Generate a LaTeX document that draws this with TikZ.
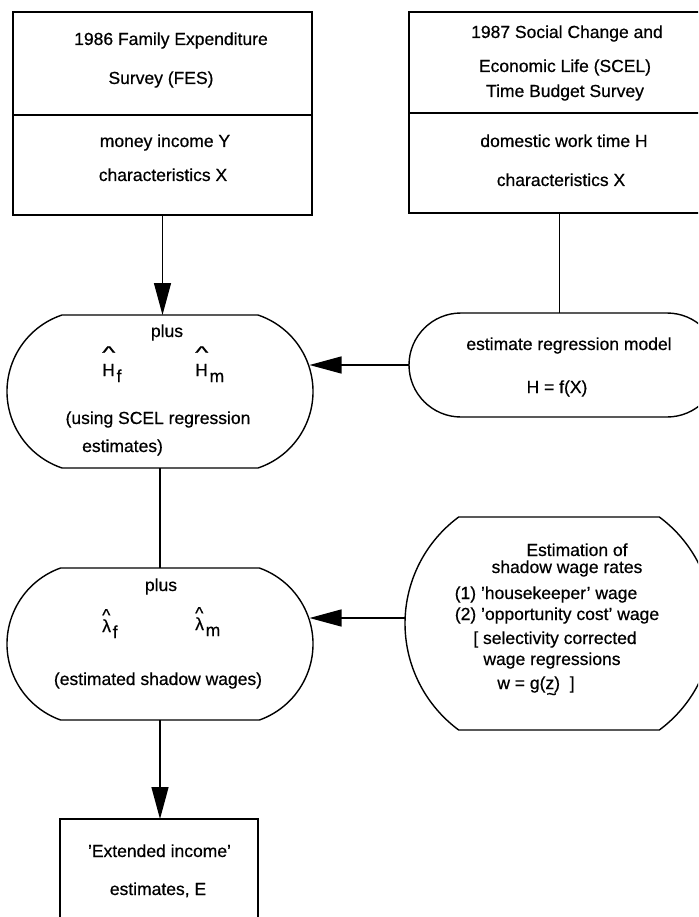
\documentclass[tikz,border=0pt]{standalone}
\usepackage{fontspec}
\usepackage{graphicx}
\setmainfont{Liberation Sans}[BoldFont=Liberation Sans, BoldFeatures={FakeBold=0.6}]
\usetikzlibrary{arrows.meta}
\newcommand\hatted[4]{\leavevmode\rlap{\raisebox{#3}{\scalebox{#4}[1]{\textasciicircum}}}#1\raisebox{-0.35em}{\kern0.1em#2}}
\newcommand\drawcapsule[5]{%
 \pgfmathsetmacro\capA{asin(#4/#5)}%
 \pgfmathsetmacro\capD{#5*cos(\capA)}%
 \pgfmathsetmacro\capLx{#1-#3+#5-\capD}%
 \pgfmathsetmacro\capRx{#1+#3-#5+\capD}%
 \pgfmathsetmacro\capT{#2+#4}%
 \pgfmathsetmacro\capB{#2-#4}%
 \draw[outline] (\capLx,\capT) arc[start angle=180-\capA, end angle=180+\capA, radius=#5pt] -- (\capRx,\capB) arc[start angle=-\capA, end angle=\capA, radius=#5pt] -- cycle;}
\tikzset{
 outline/.style={line width=1.4pt, black},
 box/.style={draw, line width=1.4pt, inner sep=0pt, outer sep=0pt},
 area/.style={inner sep=0pt, outer sep=0pt},
 lbl/.style={font=\fontsize{17.5}{20}\selectfont\bfseries, inner sep=0pt, anchor=base},
 lblw/.style={font=\fontsize{17.5}{20}\selectfont\bfseries, inner sep=0pt, anchor=base west},
 arr/.style={outline, -{Triangle[length=32pt,width=17pt]}},
}
\begin{document}
\begin{tikzpicture}[x=1pt,y=1pt]
\useasboundingbox (0,0) rectangle (698,-917);
\clip (0,0) rectangle (698,-917);
% boxes
\node[box, minimum width=299pt, minimum height=203pt] (fes) at (162.5,-113.5) {};
\coordinate (fesdiv) at (0,-115);
\draw[outline] (fes.west |- fesdiv) -- (fes.east |- fesdiv);
\node[box, minimum width=301pt, minimum height=201pt] (scel) at (559.5,-112.5) {};
\coordinate (sceldiv) at (0,-113);
\draw[outline] (scel.west |- sceldiv) -- (scel.east |- sceldiv);
\node[box, minimum width=198pt, minimum height=130pt] (ext) at (159,-884) {};
% capsule areas
\node[area, minimum width=306pt, minimum height=153pt] (pone) at (160,-391.5) {};
\drawcapsule{160}{-391.5}{153}{76.5}{80.7}
\node[area, minimum width=310pt, minimum height=104pt] (est) at (564,-365) {};
\drawcapsule{564}{-365}{155}{52}{52}
\node[area, minimum width=306pt, minimum height=152pt] (lam) at (160,-644) {};
\drawcapsule{160}{-644}{153}{76}{80.7}
\node[area, minimum width=308pt, minimum height=213pt] (wage) at (559,-623.5) {};
\drawcapsule{559}{-623.5}{154}{106.5}{132.5}
% texts
\node[lbl] (t1) at (171,-45) {1986 Family Expenditure};
\node[lbl] (t2) at (161,-84) {Survey (FES)};
\node[lbl] (t3) at (165,-147) {money income Y};
\node[lbl] (t4) at (163,-181) {characteristics X};
\node[lbl] (s1) at (567,-38) {1987 Social Change and};
\node[lbl] (s2) at (565,-72) {Economic Life (SCEL)};
\node[lbl] (s3) at (565,-97) {Time Budget Survey};
\node[lbl] (s4) at (564,-147) {domestic work time H};
\node[lbl] (s5) at (561,-186) {characteristics X};
\node[lbl] (p1) at (167,-337) {plus};
\node[lblw] (hf) at (102,-376) {\hatted{H}{f}{1.0em}{1.6}};
\node[lblw] (hm) at (195,-376) {\hatted{H}{m}{1.0em}{1.6}};
\node[lbl] (p2) at (158,-424) {(using SCEL regression};
\node[lblw] (p3) at (82,-452) {estimates)};
\node[lbl] (e1) at (569,-350) {estimate regression model};
\node[lbl] (e2) at (557,-393) {H = f(X)};
\node[lbl] (l1) at (161,-591) {plus};
\node[lblw] (lf) at (102,-632) {\hatted{λ}{f}{0.62em}{1}};
\node[lblw] (lm) at (195,-630) {\hatted{λ}{m}{0.62em}{1}};
\node[lbl] (l2) at (158,-685) {(estimated shadow wages)};
\node[lbl] (w1) at (577,-556) {Estimation of};
\node[lbl] (w2) at (567,-573) {shadow wage rates};
\node[lbl] (w3) at (546,-599) {(1) 'housekeeper' wage};
\node[lbl] (w4) at (557,-620) {(2) 'opportunity cost' wage};
\node[lbl] (w5) at (555,-644) {[ selectivity corrected};
\node[lbl] (w6) at (552,-665) {wage regressions};
\node[lbl] (w7) at (536,-689) {w = g(\rlap{\raisebox{-0.62em}{\kern0.05em\textasciitilde}}z)\ \ ]};
\node[lbl] (x1) at (159.5,-857) {'Extended income'};
\node[lbl] (x2) at (158,-895) {estimates, E};
% connectors
\coordinate (p1in) at (309.5,-366);
\coordinate (p2in) at (309.5,-618);
\draw[arr] (fes.south) -- (fes.south |- pone.north);
\draw[outline] (scel.south) -- (scel.south |- est.north);
\draw[arr] (est.west) -- (est.west -| p1in);
\draw[outline] (pone.south) -- (lam.north);
\draw[arr] (wage.west |- p2in) -- (p2in);
\draw[arr] (lam.south) -- (lam.south |- ext.north);
\end{tikzpicture}
\end{document}
